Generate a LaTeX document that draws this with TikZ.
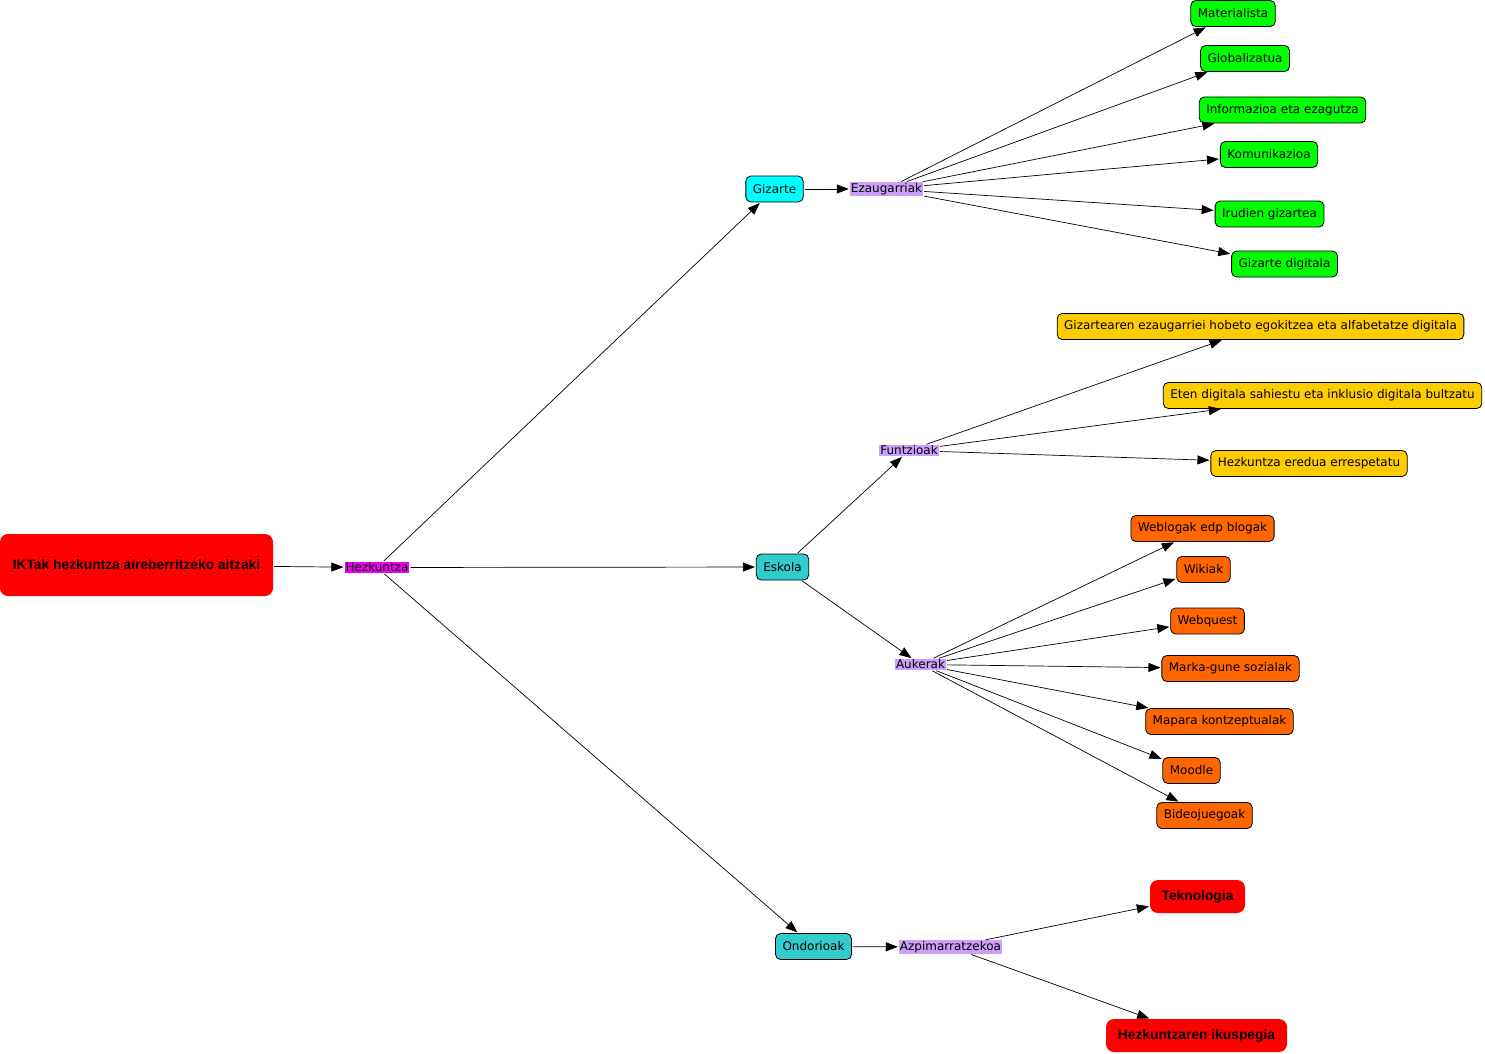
\documentclass[tikz,border=0pt]{standalone}
\usepackage{fontspec}
\usepackage{tikz}
\usetikzlibrary{arrows.meta}
\newfontfamily\mapfont{DejaVu Sans}
\newfontfamily\mapbold{Liberation Sans}
\definecolor{boxgreen}{RGB}{0,255,0}
\definecolor{boxcyan}{RGB}{0,255,255}
\definecolor{boxteal}{RGB}{51,204,204}
\definecolor{boxyellow}{RGB}{255,204,0}
\definecolor{boxorange}{RGB}{255,102,0}
\definecolor{boxred}{RGB}{255,0,0}
\definecolor{linklilac}{RGB}{204,160,250}
\definecolor{linkmagenta}{RGB}{240,0,240}
\tikzset{
  concept/.style={draw, rounded corners=5pt, line width=0.8pt, inner xsep=7pt,
    minimum height=26pt, font={\mapfont\fontsize{12}{14}\selectfont}},
  bigred/.style={fill=boxred, rounded corners=8pt, inner sep=0pt,
    font={\mapbold\bfseries\fontsize{13.8}{16}\selectfont}},
  linkword/.style={fill=linklilac, inner xsep=1pt, inner ysep=1pt,
    font={\mapfont\fontsize{12}{14}\selectfont}},
  link/.style={-{Triangle[length=12pt,width=9pt]}, line width=0.7pt,
    shorten <=1pt, shorten >=1pt}
}
\begin{document}
\begin{tikzpicture}[x=1pt,y=-1pt]
\useasboundingbox (0,0) rectangle (1485,1054);
\node[bigred, minimum width=273pt, minimum height=62pt] (root) at (136.5,565) {IKTak hezkuntza aireberritzeko aitzaki};
\node[linkword, fill=linkmagenta] (hezk) at (377,567.5) {Hezkuntza};
\node[concept, fill=boxcyan] (gizarte) at (774.5,189) {Gizarte};
\node[linkword] (ezaug) at (886.5,189) {Ezaugarriak};
\node[concept, fill=boxgreen] (mater) at (1233,13.5) {Materialista};
\node[concept, fill=boxgreen] (global) at (1245,58.5) {Globalizatua};
\node[concept, fill=boxgreen] (info) at (1282.5,110) {Informazioa eta ezagutza};
\node[concept, fill=boxgreen] (komun) at (1269,154.5) {Komunikazioa};
\node[concept, fill=boxgreen] (irudi) at (1269.5,214) {Irudien gizartea};
\node[concept, fill=boxgreen] (gdigi) at (1284.5,264) {Gizarte digitala};
\node[concept, fill=boxteal] (eskola) at (782.5,567) {Eskola};
\node[linkword] (funtz) at (909,450.5) {Funtzioak};
\node[concept, fill=boxyellow] (egoki) at (1260.5,326.5) {Gizartearen ezaugarriei hobeto egokitzea eta alfabetatze digitala};
\node[concept, fill=boxyellow] (eten) at (1322.5,395.5) {Eten digitala sahiestu eta inklusio digitala bultzatu};
\node[concept, fill=boxyellow] (eredu) at (1309,463.5) {Hezkuntza eredua errespetatu};
\node[linkword] (aukerak) at (920.5,664.5) {Aukerak};
\node[concept, fill=boxorange] (weblog) at (1202.5,528.5) {Weblogak edp blogak};
\node[concept, fill=boxorange] (wiki) at (1203.5,569.5) {Wikiak};
\node[concept, fill=boxorange] (webq) at (1207.5,621) {Webquest};
\node[concept, fill=boxorange] (marka) at (1230.5,668.5) {Marka-gune sozialak};
\node[concept, fill=boxorange] (mapa) at (1219.5,721.5) {Mapara kontzeptualak};
\node[concept, fill=boxorange] (moodle) at (1191.5,770.5) {Moodle};
\node[concept, fill=boxorange] (bideo) at (1204.5,815.5) {Bideojuegoak};
\node[concept, fill=boxteal] (ondor) at (813.5,946.5) {Ondorioak};
\node[linkword] (azpim) at (950.5,947) {Azpimarratzekoa};
\node[bigred, minimum width=95pt, minimum height=33pt] (tekno) at (1197.5,896.5) {Teknologia};
\node[bigred, minimum width=181pt, minimum height=33pt] (ikusp) at (1196.5,1035.5) {Hezkuntzaren ikuspegia};
\draw[link] (root) -- (hezk);
\draw[link] (hezk) -- (gizarte);
\draw[link] (hezk) -- (eskola);
\draw[link] (hezk) -- (ondor);
\draw[link] (gizarte) -- (ezaug);
\draw[link] (ezaug) -- (mater);
\draw[link] (ezaug) -- (global);
\draw[link] (ezaug) -- (info);
\draw[link] (ezaug) -- (komun);
\draw[link] (ezaug) -- (irudi);
\draw[link] (ezaug) -- (gdigi);
\draw[link] (eskola) -- (funtz);
\draw[link] (eskola) -- (aukerak);
\draw[link] (funtz) -- (egoki);
\draw[link] (funtz) -- (eten);
\draw[link] (funtz) -- (eredu);
\draw[link] (aukerak) -- (weblog);
\draw[link] (aukerak) -- (wiki);
\draw[link] (aukerak) -- (webq);
\draw[link] (aukerak) -- (marka);
\draw[link] (aukerak) -- (mapa);
\draw[link] (aukerak) -- (moodle);
\draw[link] (aukerak) -- (bideo);
\draw[link] (ondor) -- (azpim);
\draw[link] (azpim) -- (tekno);
\draw[link] (azpim) -- (ikusp);
\end{tikzpicture}
\end{document}
